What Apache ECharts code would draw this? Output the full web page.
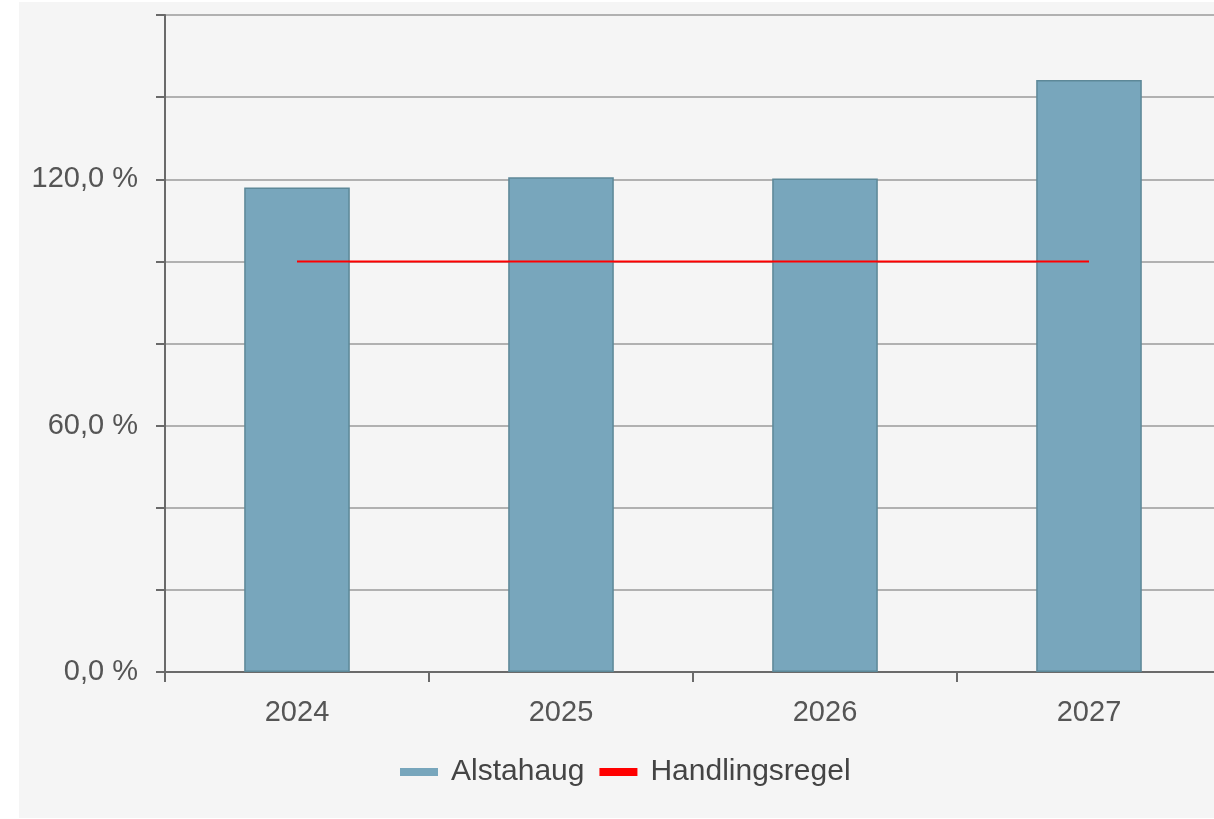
<!DOCTYPE html>
<html>
<head>
<meta charset="utf-8">
<script src="https://cdn.jsdelivr.net/npm/echarts@6/dist/echarts.min.js"></script>
<style>
  html, body { margin: 0; padding: 0; background: #ffffff; overflow: hidden; width: 1214px; height: 819px; }
  #bg { position: absolute; left: 19px; top: 2px; width: 1195px; height: 816px; background: #f5f5f5; }
  #chart { position: absolute; left: 19px; top: 2px; width: 1230px; height: 816px; }
</style>
</head>
<body>
<div id="bg"></div>
<div id="chart"></div>
<script>
const categories = ['2024', '2025', '2026', '2027'];
const alstahaug = [118.0, 120.5, 120.2, 144.2];
const handlingsregel = [100, 100, 100, 100];
const yTickLabelValues = [0, 60, 120];

const chart = echarts.init(document.getElementById('chart'), null, { renderer: 'canvas' });
const font = '"Liberation Sans", Arial, sans-serif';
chart.setOption({
  backgroundColor: 'transparent',
  animation: false,
  grid: { left: 146, top: 13, width: 1056, height: 657, containLabel: false },
  legend: {
    left: 376, top: 750,
    itemWidth: 38, itemHeight: 8, itemGap: 15,
    textStyle: { fontFamily: font, fontSize: 30, color: '#444', padding: [0, 0, 0, 8] },
    data: [
      { name: 'Alstahaug', icon: 'rect', itemStyle: { color: '#78a6bc', borderWidth: 0 } },
      { name: 'Handlingsregel', icon: 'rect', itemStyle: { color: '#ff0000', borderWidth: 0 } }
    ]
  },
  xAxis: {
    type: 'category',
    data: categories,
    axisLine: { lineStyle: { color: '#6a6a6a', width: 2 } },
    axisTick: { show: true, length: 10, alignWithLabel: false, lineStyle: { color: '#6a6a6a', width: 2 } },
    axisLabel: { fontFamily: font, fontSize: 29, color: '#555', margin: 26 },
    splitLine: { show: false }
  },
  yAxis: {
    type: 'value',
    min: 0, max: 160, interval: 20,
    axisLine: { show: true, lineStyle: { color: '#6a6a6a', width: 2 } },
    axisTick: { show: true, length: 9, lineStyle: { color: '#6a6a6a', width: 2 } },
    axisLabel: {
      fontFamily: font, fontSize: 29, color: '#555', margin: 27,
      formatter: function (v) {
        return yTickLabelValues.indexOf(v) >= 0 ? v.toFixed(1).replace('.', ',') + ' %' : '';
      }
    },
    splitLine: { show: true, lineStyle: { color: '#9a9a9a', width: 1.5 } }
  },
  series: [
    {
      name: 'Alstahaug', type: 'bar', data: alstahaug, barWidth: '40%',
      itemStyle: { color: '#78a6bc', borderColor: '#5d8898', borderWidth: 1.5 }
    },
    {
      name: 'Handlingsregel', type: 'line', data: handlingsregel,
      symbol: 'none', lineStyle: { color: '#ff0000', width: 2 }, itemStyle: { color: '#ff0000' }
    }
  ]
});
</script>
</body>
</html>
